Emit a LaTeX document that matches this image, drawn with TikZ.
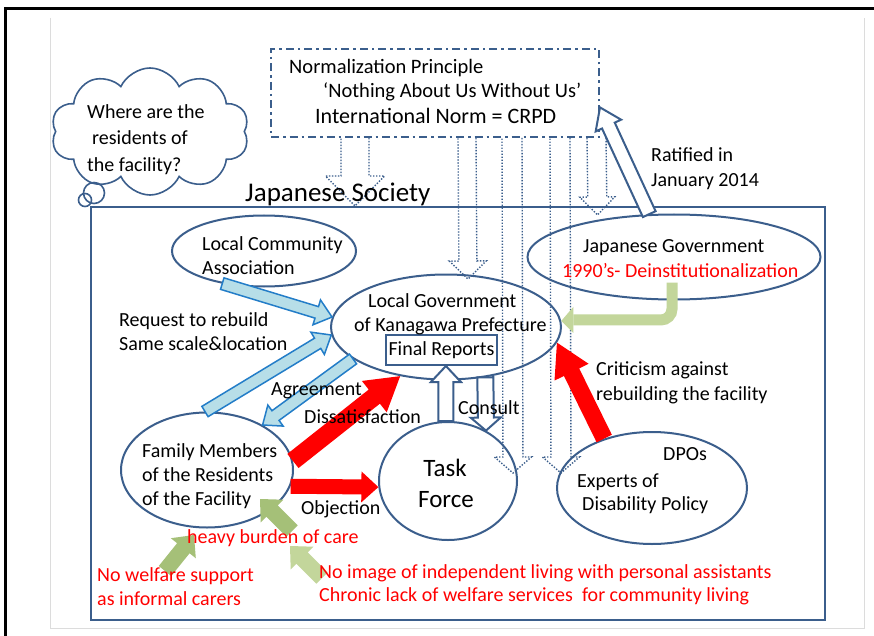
\documentclass[tikz,border=0pt]{standalone}
\usepackage{fontspec}
\setmainfont{Carlito}
\usetikzlibrary{calc,shapes.geometric,shapes.symbols}
\definecolor{obl}{RGB}{59,94,140}
\definecolor{lbfill}{RGB}{183,222,232}
\definecolor{lbdraw}{RGB}{35,125,200}
\definecolor{gbig}{RGB}{195,214,155}
\definecolor{gsmall}{RGB}{165,192,120}
\definecolor{gsmallb}{RGB}{195,214,155}
\definecolor{redc}{RGB}{255,0,0}
\definecolor{pagegray}{RGB}{220,220,220}
% block arrow: #1 style, #2 start, #3 tip, #4 shaft half width, #5 head half width, #6 head length
\newcommand\blockarrow[6]{%
  \coordinate (bb) at ($(#3)!#6!(#2)$);
  \path[#1] ($(#2)!#4!90:(#3)$) -- ($(bb)!#4!-90:(#2)$) -- ($(bb)!#5!-90:(#2)$) -- (#3)
    -- ($(bb)!#5!90:(#2)$) -- ($(bb)!#4!90:(#2)$) -- ($(#2)!#4!-90:(#3)$) -- cycle;}
% open (unclosed at start) block arrow
\newcommand\openarrow[6]{%
  \coordinate (bb) at ($(#3)!#6!(#2)$);
  \path[#1] ($(#2)!#4!90:(#3)$) -- ($(bb)!#4!-90:(#2)$) -- ($(bb)!#5!-90:(#2)$) -- (#3)
    -- ($(bb)!#5!90:(#2)$) -- ($(bb)!#4!90:(#2)$) -- ($(#2)!#4!-90:(#3)$);}
\begin{document}
\begin{tikzpicture}[x=1pt,y=-1pt,line join=miter,
  txt/.style={inner sep=0pt, anchor=base west, font=\fontsize{20}{24}\selectfont},
  rtxt/.style={txt, text=redc},
  ell/.style={draw=obl, line width=2pt, ellipse, inner sep=0pt},
  lbarrow/.style={fill=lbfill, draw=lbdraw, line width=1.5pt},
  redarrow/.style={fill=redc},
  hollow/.style={fill=white, draw=obl, line width=2pt},
  dotarrow/.style={draw=obl, line width=1.4pt, dash pattern=on 1.4pt off 1.6pt},
  greenarrow/.style={fill=gsmall},
  greenarrowb/.style={fill=gsmallb}]
\useasboundingbox (0,0) rectangle (874,636);
\fill[white] (0,0) rectangle (874,636);
% page frame
\draw[black, line width=2.5pt] (5.5,636) -- (5.5,8.5) -- (874,8.5);
\draw[pagegray, line width=0.8pt] (50,18) -- (50,628) -- (864,628) -- (864,18);

% main boxes
\node[draw=obl, line width=2pt, minimum width=734pt, minimum height=413pt, inner sep=0pt, anchor=north west] (soc) at (90,206) {};
\node[draw=obl, line width=2pt, dash pattern=on 8pt off 4pt on 2.5pt off 4pt, minimum width=328pt, minimum height=88pt, inner sep=0pt] (norm) at (435,93) {};

% cloud
\node[cloud, cloud puffs=10, cloud puff arc=130, aspect=1.5, draw=obl, line width=1.6pt, minimum width=198pt, minimum height=127pt, inner sep=0pt] (cl) at (150,131.5) {};
\node[circle, draw=obl, line width=1.6pt, minimum size=21pt, inner sep=0pt] (b1) at (94,193) {};
\node[circle, draw=obl, line width=1.6pt, minimum size=13pt, inner sep=0pt] (b2) at (85,200) {};

% ellipses
\node[ell, minimum width=184pt, minimum height=71pt] (lca) at (264,251) {};
\node[ell, minimum width=230pt, minimum height=105pt] (lg) at (446,327) {};
\node[draw=obl, line width=2pt, minimum width=111pt, minimum height=30pt, inner sep=0pt, font=\fontsize{20}{24}\selectfont] (fr) at (441.5,350) {Final Reports};
\node[ell, minimum width=293pt, minimum height=85pt] (jg) at (674,257) {};
\node[ell, minimum width=172pt, minimum height=115pt] (fam) at (207,470) {};
\node[ell, minimum width=138pt, minimum height=118pt] (tf) at (448,481) {};
\node[ell, minimum width=190pt, minimum height=112pt] (dpo) at (652,488) {};

% dotted hollow arrows from the norm box
\coordinate (ds1) at ($(norm.south west)+(85,0)$);
\coordinate (dt1) at (ds1 |- soc.north);
\coordinate (ds2) at ($(norm.south west)+(197,0)$);
\coordinate (dt2) at (468,279);
\coordinate (ds3) at ($(norm.south west)+(242,0)$);
\coordinate (dt3) at (513,473);
\coordinate (ds4) at ($(norm.south west)+(290,0)$);
\coordinate (dt4) at (561,473);
\coordinate (ds5) at ($(norm.south west)+(326.5,0)$);
\coordinate (dt5) at (597.5,215);
\openarrow{dotarrow}{ds1}{dt1}{14pt}{29.5pt}{30pt}
\openarrow{dotarrow}{ds2}{dt2}{9pt}{18.5pt}{18pt}
\openarrow{dotarrow}{ds3}{dt3}{10pt}{18.5pt}{16pt}
\openarrow{dotarrow}{ds4}{dt4}{10pt}{18.5pt}{16pt}
\openarrow{dotarrow}{ds5}{dt5}{9.5pt}{17.5pt}{18pt}

% ratified arrow
\coordinate (rt) at ($(norm.north east)!0.66!(norm.south east)$);
\blockarrow{hollow}{jg.120}{rt}{7pt}{14pt}{20pt}

% light blue arrows
\blockarrow{lbarrow}{lca.218}{lg.175}{6pt}{13pt}{16pt}
\blockarrow{lbarrow}{fam.92}{lg.184}{6pt}{13pt}{16pt}
\blockarrow{lbarrow}{lg.199}{fam.39}{6pt}{13pt}{16pt}

% red arrows
\blockarrow{redarrow}{fam.6}{lg.227}{9pt}{20pt}{33pt}
\blockarrow{redarrow}{fam.-11}{tf.185}{7.5pt}{15.5pt}{17pt}
\blockarrow{redarrow}{dpo.134}{lg.-8}{8.5pt}{19pt}{33pt}

% green arrow from Japanese Government
\coordinate (gs) at ($(jg.south)+(-2,-18)$);
\coordinate (gtip) at (lg.3);
\coordinate (gbase) at ($(gtip)+(12,-1)$);
\draw[gbig, line width=11pt, rounded corners=11pt] (gs) |- (gbase);
\fill[gbig] ($(gbase)+(0,-13)$) -- (gtip) -- ($(gbase)+(0,13)$) -- cycle;

% hollow arrows task force / final reports
\coordinate (us) at (tf.92);
\coordinate (ut) at (fr.south -| us);
\blockarrow{hollow}{us}{ut}{7.5pt}{15pt}{16pt}
\blockarrow{hollow}{lg.-52}{tf.53.5}{8pt}{15pt}{13pt}

% small green arrows
\coordinate (g1s) at (292,531);
\coordinate (g1t) at (260,499);
\coordinate (g2s) at (165,571);
\coordinate (g2t) at (194,535);
\coordinate (g3s) at (322,578);
\coordinate (g3t) at (290,546);
\blockarrow{greenarrow}{g1s}{g1t}{8pt}{16pt}{17pt}
\blockarrow{greenarrow}{g2s}{g2t}{8pt}{16pt}{17pt}
\blockarrow{greenarrowb}{g3s}{g3t}{8pt}{16pt}{17pt}

% texts
\node[txt, font=\fontsize{20.5}{24}\selectfont] (t1) at (289,74) {Normalization Principle};
\node[txt, font=\fontsize{20.5}{24}\selectfont] (t2) at (323,98) {‘Nothing About Us Without Us’};
\node[txt, font=\fontsize{22}{26}\selectfont] (t3) at (315,124) {International Norm = CRPD};
\node[txt] (c1) at (87,119) {Where are the};
\node[txt] (c2) at (92,145) {residents of};
\node[txt] (c3) at (87,172) {the facility?};
\node[txt, font=\fontsize{27}{30}\selectfont] (js) at (245,201) {Japanese Society};
\node[txt] (r1) at (651,162) {Ratified in};
\node[txt] (r2) at (651,187) {January 2014};
\node[txt] (l1) at (202,250) {Local Community};
\node[txt] (l2) at (202,274) {Association};
\node[txt] (g1) at (368,307) {Local Government};
\node[txt] (g2) at (354,331) {of Kanagawa Prefecture};
\node[txt] (j1) at (583,252) {Japanese Government};
\node[rtxt] (j2) at (562,277) {1990’s- Deinstitutionalization};
\node[txt] (q1) at (119,326) {Request to rebuild};
\node[txt] (q2) at (119,350) {Same scale\&location};
\node[txt] (ag) at (271,395) {Agreement};
\node[txt] (ds) at (304,423) {Dissatisfaction};
\node[txt] (co) at (458,414) {Consult};
\node[txt] (cr1) at (596,375) {Criticism against};
\node[txt] (cr2) at (596,400) {rebuilding the facility};
\node[txt] (f1) at (142,457) {Family Members};
\node[txt] (f2) at (142,481) {of the Residents};
\node[txt] (f3) at (142,505) {of the Facility};
\node[txt, anchor=base, font=\fontsize{25}{30}\selectfont] (tk1) at (445,476) {Task};
\node[txt, anchor=base, font=\fontsize{25}{30}\selectfont] (tk2) at (446,507) {Force};
\node[txt] (d1) at (663,460) {DPOs};
\node[txt] (d2) at (577,487) {Experts of};
\node[txt] (d3) at (582,510) {Disability Policy};
\node[txt] (ob) at (301,514) {Objection};
\node[rtxt] (h1) at (187,543) {heavy burden of care};
\node[rtxt] (w1) at (97,581) {No welfare support};
\node[rtxt] (w2) at (97,605) {as informal carers};
\node[rtxt] (n1) at (319,578) {No image of independent living with personal assistants};
\node[rtxt] (n2) at (319,601) {Chronic lack of welfare services\ \ for community living};
\end{tikzpicture}
\end{document}
